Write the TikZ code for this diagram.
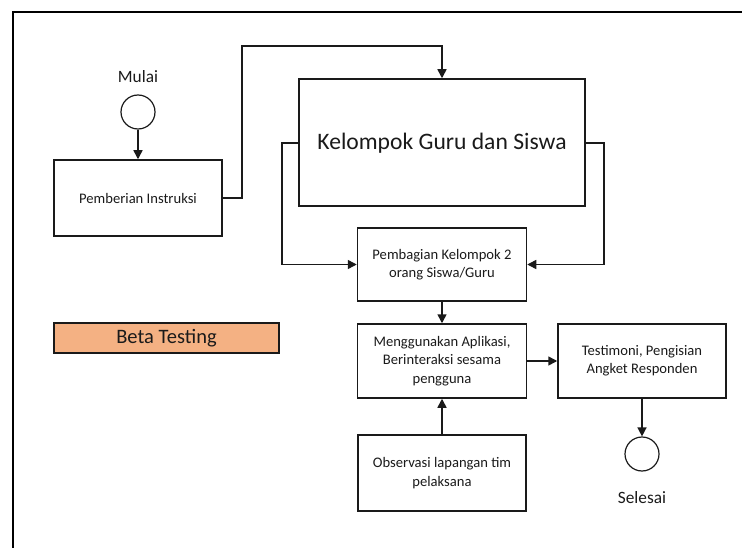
\documentclass[tikz,border=0pt]{standalone}
\usepackage{fontspec}
\setmainfont{Carlito}
\usetikzlibrary{arrows.meta}
\definecolor{betafill}{HTML}{F4B183}
\definecolor{ink}{HTML}{1A1A1A}
\begin{document}
\begin{tikzpicture}[x=1pt,y=-1pt,
  box/.style={draw=ink,line width=1.5pt,rectangle,inner sep=0pt,align=center,
    font=\fontsize{14.6}{18.3}\selectfont,text=ink},
  term/.style={draw=ink,line width=1.2pt,circle,inner sep=0pt,minimum size=34pt},
  conn/.style={draw=ink,line width=1.5pt},
  arr/.style={conn,-{Triangle[length=9pt,width=9pt]}},
  lbl/.style={font=\fontsize{17.3}{20}\selectfont,text=ink,inner sep=0pt}]
\useasboundingbox (0,0) rectangle (742,548);
% outer frame (only top and left edges visible)
\draw[line width=2pt,black] (13,548) -- (13,12) -- (742,12);

% terminals
\node[lbl] (mulai) at (138,77) {Mulai};
\node[term] (start) at (138,112) {};
\node[term] (end) at (642,454) {};
\node[lbl] (selesai) at (642,498) {Selesai};

% boxes
\node[box,minimum width=168pt,minimum height=76pt] (instr) at (138,198) {Pemberian Instruksi};
\node[box,minimum width=286pt,minimum height=127pt] (kel) at (442,142.5) {};
\node[font=\fontsize{23.6}{28}\selectfont,text=ink,inner sep=0pt] (keltext) at (442,143) {Kelompok Guru dan Siswa};
\node[box,minimum width=169pt,minimum height=73pt] (bagi) at (442,264.5) {Pembagian Kelompok 2\\orang Siswa/Guru};
\node[box,minimum width=169pt,minimum height=74pt] (guna) at (442,361) {Menggunakan Aplikasi,\\Berinteraksi sesama\\pengguna};
\node[box,minimum width=168pt,minimum height=74pt] (testi) at (642,361) {Testimoni, Pengisian\\Angket Responden};
\node[box,minimum width=168pt,minimum height=76pt] (obs) at (442,473) {Observasi lapangan tim\\pelaksana};
\node[box,fill=betafill,minimum width=225pt,minimum height=30pt,font=\fontsize{20.5}{24}\selectfont] (beta) at (166.5,338) {Beta Testing};

% connectors
\draw[arr] (start.south) -- (instr.north);
\draw[arr] (instr.east) -- (242,198) -- (242,46) -- (442,46) -- (kel.north);
\draw[arr] (kel.west |- keltext) -- (282,143) -- (282,264.5) -- (bagi.west);
\draw[arr] (kel.east |- keltext) -- (604,143) -- (604,264.5) -- (bagi.east);
\draw[arr] (bagi.south) -- (guna.north);
\draw[arr] (guna.east) -- (testi.west);
\draw[arr] (obs.north) -- (guna.south);
\draw[arr] (testi.south) -- (end.north);
\end{tikzpicture}
\end{document}
